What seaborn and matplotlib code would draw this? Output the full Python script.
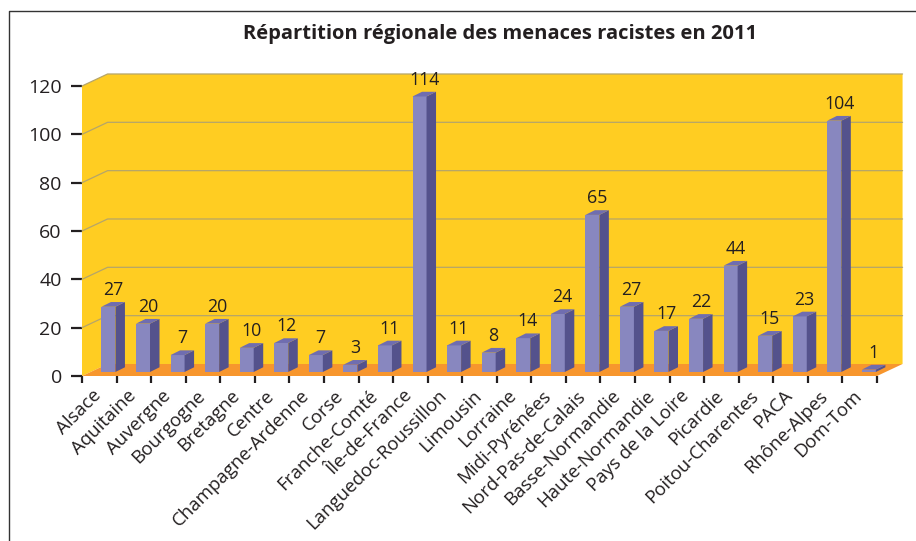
import matplotlib
matplotlib.use("Agg")
import matplotlib.pyplot as plt
from matplotlib.lines import Line2D
from matplotlib.patches import Polygon
from matplotlib.transforms import ScaledTranslation
import seaborn as sns

regions = ["Alsace", "Aquitaine", "Auvergne", "Bourgogne", "Bretagne", "Centre",
           "Champagne-Ardenne", "Corse", "Franche-Comté", "Île-de-France",
           "Languedoc-Roussillon", "Limousin", "Lorraine", "Midi-Pyrénées",
           "Nord-Pas-de-Calais", "Basse-Normandie", "Haute-Normandie",
           "Pays de la Loire", "Picardie", "Poitou-Charentes", "PACA",
           "Rhône-Alpes", "Dom-Tom"]
menaces = [27, 20, 7, 20, 10, 12, 7, 3, 11, 114, 11, 8, 14, 24, 65, 27, 17, 22,
           44, 15, 23, 104, 1]
y_ticks = [0, 20, 40, 60, 80, 100, 120]
title = "Répartition régionale des menaces racistes en 2011"

INK = "#231F20"
WALL = "#FFCD22"
FLOOR = "#F7962D"
GRID = "#B5A56A"
FRONT = "#8887BF"
SIDE = "#54528C"
TOP = "#6F6DB0"

W, H = 916, 541
sns.set_theme(style="white")
plt.rcParams["font.family"] = ["Open Sans", "DejaVu Sans"]
fig = plt.figure(figsize=(W / 100, H / 100), dpi=100)
ax = fig.add_axes([82 / W, 1 - 376 / H, 795 / W, 290 / H])
ax.patch.set_alpha(0)

sns.barplot(x=regions, y=menaces, color=FRONT, saturation=1, width=0.405,
            linewidth=0, errorbar=None, ax=ax, zorder=5)
x0, x1 = -0.5, len(regions) - 0.5
ax.set_xlim(x0, x1)
ax.set_ylim(0, 120)

# 3D look, in data units: chart depth, bar depth, bar lift and shift
DX, DY = 0.74, 4.97
bx, by = 0.275, 1.95
lift, shift = 1.66, 0.265

ax.add_patch(Polygon([(x0, 0), (x0, 120), (x0 + DX, 120 + DY), (x1 + DX, 120 + DY),
                      (x1 + DX, DY), (x0 + DX, DY)], closed=True, fc=WALL, ec="none",
                     clip_on=False, zorder=1))
ax.add_patch(Polygon([(x0, 0), (x1, 0), (x1 + DX, DY), (x0 + DX, DY)], closed=True,
                     fc=FLOOR, ec="none", clip_on=False, zorder=2))
for v in y_ticks[1:]:
    ax.plot([x0, x0 + DX, x1 + DX], [v, v + DY, v + DY], color=GRID, lw=0.9,
            clip_on=False, zorder=3)

for bar, v in zip(ax.patches[:len(menaces)], menaces):
    bar.set_x(bar.get_x() + shift)
    bar.set_y(lift)
    l, r = bar.get_x(), bar.get_x() + bar.get_width()
    t = lift + v
    ax.add_patch(Polygon([(r, lift), (r + bx, lift + by), (r + bx, t + by), (r, t)],
                         closed=True, fc=SIDE, ec="none", clip_on=False, zorder=5))
    ax.add_patch(Polygon([(l, t), (r, t), (r + bx, t + by), (l + bx, t + by)],
                         closed=True, fc=TOP, ec="none", clip_on=False, zorder=5))
    ax.text((l + r + bx) / 2, t + by + 1.3, str(v), ha="center", va="bottom",
            fontsize=12.8, color=INK, zorder=6, clip_on=False)

sns.despine(ax=ax, left=True, bottom=True, top=True, right=True)
ax.set_yticks(y_ticks)
ax.set_xticks(range(len(regions)))
ax.set_xticklabels(regions, rotation=45, ha="right", rotation_mode="anchor",
                   fontsize=13.4, color=INK)
ax.set_xticks([x0 + i for i in range(len(regions) + 1)], minor=True)
ax.tick_params(axis="y", length=8, width=1.6, color=INK, pad=6.5, left=True,
               labelsize=14, labelcolor=INK)
ax.tick_params(axis="x", which="major", length=0, pad=12)
ax.tick_params(axis="x", which="minor", length=5, width=1.6, color=INK, bottom=True)
label_shift = ScaledTranslation(-7 / 100, 6 / 100, fig.dpi_scale_trans)
for lab in ax.get_xticklabels():
    lab.set_transform(lab.get_transform() + label_shift)
ax.set_xlabel("")
ax.set_ylabel("")

fig.text(500 / W, 1 - 34.5 / H, title, ha="center", va="center", fontsize=14.5,
         fontweight="bold", color=INK)
fig.add_artist(Line2D([9 / W, 9 / W, 1], [0, 1 - 11 / H, 1 - 11 / H], color="#333333",
                      lw=1.0, transform=fig.transFigure))
fig.savefig("out.png", dpi=100, facecolor="white")
